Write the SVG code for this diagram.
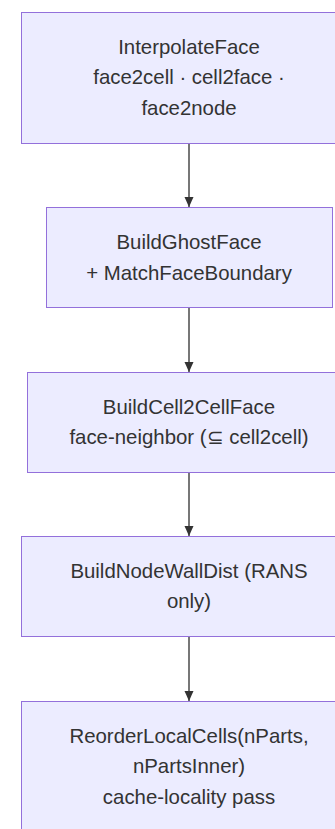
<svg xmlns="http://www.w3.org/2000/svg" width="335" height="829" viewBox="0 0 335 829">
<style>
.node rect{fill:#ECECFF;stroke:#9370DB;stroke-width:1px}
.node text{font-family:"Liberation Sans",Arial,sans-serif;font-size:20.4px;fill:#333;text-anchor:middle}
.edge{stroke:#777;stroke-width:2px;fill:none}
</style>
<defs>
<marker id="arrow" viewBox="0 0 10 9" refX="10" refY="4.5" markerUnits="userSpaceOnUse" markerWidth="10" markerHeight="10" orient="auto">
<path d="M0,0 L10,4.5 L0,9 z" fill="#333"/>
</marker>
</defs>
<rect width="335" height="829" fill="#fff"/>
<g id="connectors">
<line class="edge" x1="189" y1="143" x2="189" y2="207" marker-end="url(#arrow)"/>
<line class="edge" x1="189" y1="307" x2="189" y2="372" marker-end="url(#arrow)"/>
<line class="edge" x1="189" y1="472" x2="189" y2="536" marker-end="url(#arrow)"/>
<line class="edge" x1="189" y1="637" x2="189" y2="701" marker-end="url(#arrow)"/>
</g>
<g id="interpolateFace" class="node">
<rect x="21.5" y="12.5" width="336" height="131"/>
<text x="189" y="53.5">InterpolateFace</text>
<text x="189" y="84">face2cell · cell2face ·</text>
<text x="189" y="114.5">face2node</text>
</g>
<g id="buildGhostFace" class="node">
<rect x="46.5" y="207.5" width="286" height="100"/>
<text x="189" y="249">BuildGhostFace</text>
<text x="189" y="279.5">+ MatchFaceBoundary</text>
</g>
<g id="buildCell2CellFace" class="node">
<rect x="27.5" y="372.5" width="324" height="100"/>
<text x="189" y="413.5">BuildCell2CellFace</text>
<text x="189" y="444">face-neighbor (⊆ cell2cell)</text>
</g>
<g id="buildNodeWallDist" class="node">
<rect x="21.5" y="536.5" width="336" height="100"/>
<text x="189" y="577.5">BuildNodeWallDist (RANS</text>
<text x="189" y="608">only)</text>
</g>
<g id="reorderLocalCells" class="node">
<rect x="21.5" y="701.5" width="336" height="131"/>
<text x="189" y="742.5">ReorderLocalCells(nParts,</text>
<text x="189" y="773">nPartsInner)</text>
<text x="189" y="803.5">cache-locality pass</text>
</g>
</svg>
